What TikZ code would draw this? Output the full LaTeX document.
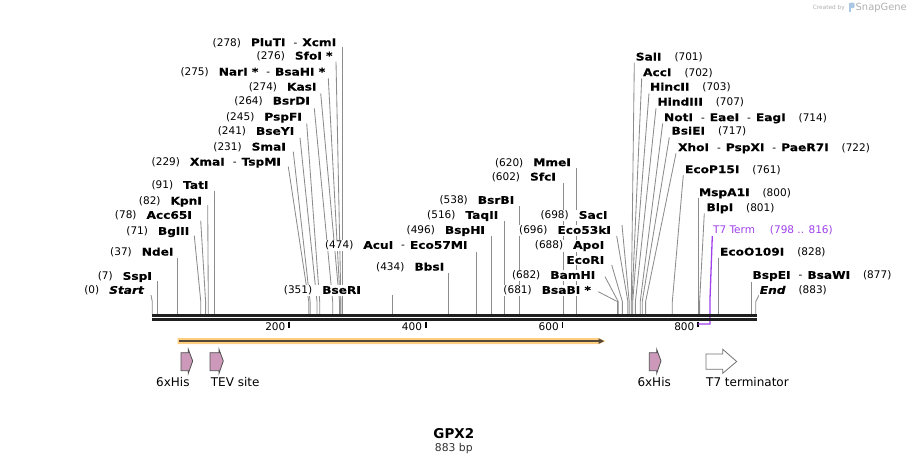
\documentclass[tikz,border=0pt]{standalone}
\usepackage{fontspec}
\setmainfont{DejaVu Sans}[BoldFeatures={FakeStretch=1.16,FakeBold=0.35},BoldItalicFeatures={FakeStretch=1.16,FakeBold=0.35}]
\newfontfamily\titlefont{DejaVu Sans Bold}
\definecolor{leadgray}{RGB}{140,140,140}
\definecolor{termpurple}{RGB}{160,64,235}
\definecolor{orfband}{RGB}{255,206,128}
\definecolor{orfline}{RGB}{85,72,55}
\definecolor{featpink}{RGB}{204,153,187}
\definecolor{featline}{RGB}{80,80,80}
\definecolor{wmgray}{RGB}{175,175,175}
\definecolor{wmblue}{RGB}{170,200,228}
\newcommand\lgapx{\hspace{10pt}}
\newcommand\rgapx{\hspace{13pt}}
\newcommand\dsep{\hspace{8pt}-\hspace{5pt}}
\begin{document}
\begin{tikzpicture}[x=1pt,y=-1pt,
  font=\fontsize{10.5}{12}\selectfont,
  lead/.style={draw=leadgray, line width=0.85},
  lbl/.style={fill=white, inner sep=0.6pt, text=black},
  lbll/.style={lbl, anchor=base east},
  lblr/.style={lbl, anchor=base west},
  bbone/.style={line width=2.5, draw=black!88},
  tk/.style={line width=1.8, draw=black},
  tklbl/.style={anchor=base east, inner sep=0pt},
  feat/.style={draw=featline, line width=0.8, fill=featpink, line join=miter},
  featlbl/.style={anchor=base west, inner sep=0pt, font=\fontsize{12}{14}\selectfont},
]
\useasboundingbox (0,0) rectangle (910,464);

% ---------- leader lines ----------
\draw[lead] (342.3,47) -- (342.3,314);
\draw[lead] (336,61.7) -- (340.9,301.7) -- (340.9,314);
\draw[lead] (328.3,78.3) -- (340.2,301.7) -- (340.2,314);
\draw[lead] (320.7,93.3) -- (339.5,301.7) -- (339.5,314);
\draw[lead] (314.3,108.3) -- (332.7,301.7) -- (332.7,314);
\draw[lead] (306.7,123.3) -- (319.7,301.7) -- (319.7,314);
\draw[lead] (300,137.7) -- (317.0,301.7) -- (317.0,314);
\draw[lead] (293.3,151.7) -- (310.1,301.7) -- (310.1,314);
\draw[lead] (288.3,166.7) -- (308.8,301.7) -- (308.8,314);
\draw[lead] (214.5,190.7) -- (214.5,314);
\draw[lead] (207.7,205) -- (208.3,301.7) -- (208.3,314);
\draw[lead] (200.7,220.7) -- (205.6,301.7) -- (205.6,314);
\draw[lead] (194.3,235.7) -- (200.8,301.7) -- (200.8,314);
\draw[lead] (177.6,258.3) -- (177.6,314);
\draw[lead] (157.1,281) -- (157.1,314);
\draw[lead] (151,295) -- (152.3,301.7) -- (152.3,314);
\draw[lead] (392.2,295) -- (392.2,314);
\draw[lead] (448.9,273.3) -- (448.9,314);
\draw[lead] (476.2,251.7) -- (476.2,314);
\draw[lead] (491.2,236) -- (491.2,314);
\draw[lead] (504.9,221) -- (504.9,314);
\draw[lead] (519.9,206) -- (519.9,314);
\draw[lead] (563.6,183.3) -- (563.6,314);
\draw[lead] (576.0,168.3) -- (576.0,314);
\draw[lead] (622,225) -- (629.2,301.7) -- (629.2,314);
\draw[lead] (616.7,236) -- (627.9,301.7) -- (627.9,314);
\draw[lead] (611.7,265) -- (622.4,301.7) -- (622.4,314);
\draw[lead] (605,276.7) -- (618.3,301.7) -- (618.3,314);
\draw[lead] (598.3,291.7) -- (617.6,301.7) -- (617.6,314);
\draw[lead] (634.3,62.7) -- (631.3,301.7) -- (631.3,314);
\draw[lead] (641.7,78.3) -- (632.0,301.7) -- (632.0,314);
\draw[lead] (649,93.3) -- (632.7,301.7) -- (632.7,314);
\draw[lead] (656,108.3) -- (635.4,301.7) -- (635.4,314);
\draw[lead] (662.7,123.3) -- (640.2,301.7) -- (640.2,314);
\draw[lead] (669.3,137.3) -- (642.2,301.7) -- (642.2,314);
\draw[lead] (676,153.3) -- (645.6,301.7) -- (645.6,314);
\draw[lead] (683.3,175) -- (672.3,301.7) -- (672.3,314);
\draw[lead] (698.9,198.3) -- (698.9,314);
\draw[lead] (704.3,213.3) -- (699.6,301.7) -- (699.6,314);
\draw[lead] (718.1,258.3) -- (718.1,314);
\draw[lead] (751.5,281.7) -- (751.5,314);
\draw[lead] (759,295) -- (755.7,301.7) -- (755.7,314);

% ---------- T7 term span (purple) ----------
\draw[tk] (698.3,321.8) -- (698.3,327.2);
\draw[draw=termpurple, line width=1.3] (712.3,236) -- (709.9,301.7) -- (709.9,324) -- (697.6,324);

% ---------- backbone ----------
\coordinate (bbL) at (152.3,0);
\coordinate (bbR) at (756.5,0);
\draw[bbone] (152.3,315.3) -- (756.5,315.3);
\draw[bbone, line width=2.3] (152.3,319.6) -- (756.5,319.6);

% ---------- ticks ----------
\draw[tk] (289,321.5) -- (289,327.8);
\draw[tk] (425.7,321.5) -- (425.7,327.8);
\draw[tk] (562.4,321.5) -- (562.4,327.8);
\node[tklbl] (t200) at (285.5,330.5) {200};
\node[tklbl] (t400) at (422.2,330.5) {400};
\node[tklbl] (t600) at (558.9,330.5) {600};
\node[tklbl] (t800) at (694.5,330.5) {800};

% ---------- left-side labels ----------
\node[lbll] (n278) at (337,46.1) {(278)\lgapx\textbf{PluTI}\dsep\textbf{XcmI}};
\node[lbll] (n276) at (333.3,59.5) {(276)\lgapx\textbf{SfoI *}};
\node[lbll] (n275) at (326,75.5) {(275)\lgapx\textbf{NarI *}\dsep\textbf{BsaHI *}};
\node[lbll] (n274) at (317.3,90.5) {(274)\lgapx\textbf{KasI}};
\node[lbll] (n264) at (310.7,104.5) {(264)\lgapx\textbf{BsrDI}};
\node[lbll] (n245) at (302.7,120.5) {(245)\lgapx\textbf{PspFI}};
\node[lbll] (n241) at (295,134.8) {(241)\lgapx\textbf{BseYI}};
\node[lbll] (n231) at (286.7,150.5) {(231)\lgapx\textbf{SmaI}};
\node[lbll] (n229) at (281.7,165.5) {(229)\lgapx\textbf{XmaI}\dsep\textbf{TspMI}};
\node[lbll] (n91) at (209.3,188.8) {(91)\lgapx\textbf{TatI}};
\node[lbll] (n82) at (202.7,204.5) {(82)\lgapx\textbf{KpnI}};
\node[lbll] (n78) at (192.7,218.8) {(78)\lgapx\textbf{Acc65I}};
\node[lbll] (n71) at (190,234.8) {(71)\lgapx\textbf{BglII}};
\node[lbll] (n37) at (174.3,255.5) {(37)\lgapx\textbf{NdeI}};
\node[lbll] (n7) at (152.7,279.8) {(7)\lgapx\textbf{SspI}};
\node[lbll] (n0) at (145,293.8) {(0)\lgapx\textbf{\textit{Start}}};
\node[lbll] (n351) at (361.7,293.8) {(351)\lgapx\textbf{BseRI}};
\node[lbll] (n434) at (445,270.5) {(434)\lgapx\textbf{BbsI}};
\node[lbll] (n474) at (468.3,248.8) {(474)\lgapx\textbf{AcuI}\dsep\textbf{Eco57MI}};
\node[lbll] (n496) at (485.7,233.8) {(496)\lgapx\textbf{BspHI}};
\node[lbll] (n516) at (499,218.8) {(516)\lgapx\textbf{TaqII}};
\node[lbll] (n538) at (515,203.8) {(538)\lgapx\textbf{BsrBI}};
\node[lbll] (n602) at (556.7,180.5) {(602)\lgapx\textbf{SfcI}};
\node[lbll] (n620) at (571.7,166.1) {(620)\lgapx\textbf{MmeI}};
\node[lbll] (n698) at (608.3,218.8) {(698)\lgapx\textbf{SacI}};
\node[lbll] (n696) at (611.7,233.8) {(696)\lgapx\textbf{Eco53kI}};
\node[lbll] (n688) at (605,248.8) {(688)\lgapx\textbf{ApoI}};
\node[lbll] (nEcoRI) at (605,263.8) {\textbf{EcoRI}};
\node[lbll] (n682) at (596,278.8) {(682)\lgapx\textbf{BamHI}};
\node[lbll] (n681) at (591.7,293.8) {(681)\lgapx\textbf{BsaBI *}};

% ---------- right-side labels ----------
\node[lblr] (n701) at (635,60.5) {\textbf{SalI}\rgapx(701)};
\node[lblr] (n702) at (642.3,76.1) {\textbf{AccI}\rgapx(702)};
\node[lblr] (n703) at (649.3,90.5) {\textbf{HincII}\rgapx(703)};
\node[lblr] (n707) at (656.7,105.5) {\textbf{HindIII}\rgapx(707)};
\node[lblr] (n714) at (663.3,121.1) {\textbf{NotI}\dsep\textbf{EaeI}\dsep\textbf{EagI}\rgapx(714)};
\node[lblr] (n717) at (670.7,134.5) {\textbf{BsiEI}\rgapx(717)};
\node[lblr] (n722) at (677.3,151.1) {\textbf{XhoI}\dsep\textbf{PspXI}\dsep\textbf{PaeR7I}\rgapx(722)};
\node[lblr] (n761) at (684.3,173.1) {\textbf{EcoP15I}\rgapx(761)};
\node[lblr] (n800) at (698.3,196.1) {\textbf{MspA1I}\rgapx(800)};
\node[lblr] (n801) at (705.7,211.1) {\textbf{BlpI}\rgapx(801)};
\node[lblr, text=termpurple] (nT7) at (712.3,233.8) {T7 Term\hspace{15pt}(798 .. 816)};
\node[lblr] (n828) at (719.3,255.5) {\textbf{EcoO109I}\rgapx(828)};
\node[lblr] (n877) at (751.7,278.8) {\textbf{BspEI}\dsep\textbf{BsaWI}\rgapx(877)};
\node[lblr] (n883) at (759,293.8) {\textbf{\textit{End}}\rgapx(883)};

% ---------- ORF arrow ----------
\fill[orfband] (177.7,338.2) -- (599,338.2) -- (605.5,341.1) -- (599,344) -- (177.7,344) -- cycle;
\draw[orfline, line width=1.3] (179.3,341.1) -- (600,341.1);
\fill[orfline] (598.5,338.3) -- (604.2,341.1) -- (598.5,343.9) -- cycle;

% ---------- features ----------
\filldraw[feat] (181,352.7) -- (188.3,352.7) -- (188.3,349.3) -- (192.7,361) -- (188.3,373.3) -- (188.3,370.7) -- (181,370.7) -- cycle;
\filldraw[feat] (210,352.7) -- (219,352.7) -- (219,349.3) -- (223.3,361) -- (219,373.3) -- (219,370.7) -- (210,370.7) -- cycle;
\filldraw[feat] (649.3,352.7) -- (656.7,352.7) -- (656.7,349.3) -- (661,361) -- (656.7,373.3) -- (656.7,370.7) -- (649.3,370.7) -- cycle;
\filldraw[feat, fill=white, draw=featline!80] (706,354) -- (722.7,354) -- (722.7,349.3) -- (736.7,361.5) -- (722.7,373.3) -- (722.7,369.3) -- (706,369.3) -- cycle;
\node[featlbl] (f1) at (156,386.4) {6xHis};
\node[featlbl] (f2) at (210.7,386.4) {TEV site};
\node[featlbl] (f3) at (637.3,386.4) {6xHis};
\node[featlbl] (f4) at (706,386.4) {T7 terminator};

% ---------- title ----------
\node[inner sep=0pt, anchor=base, font=\titlefont\fontsize{13.5}{15}\selectfont] (title) at (453.8,438.2) {GPX2};
\node[inner sep=0pt, anchor=base, text=black!80, font=\fontsize{10.8}{12}\selectfont] (len) at (453.8,451.6) {883 bp};

% ---------- watermark ----------
\node[inner sep=0pt, anchor=base west, text=wmgray, font=\fontsize{5.8}{7}\selectfont] (wm1) at (812.7,9.2) {Created by};
\fill[wmblue] (848.5,2.5) rectangle (850.5,12) ;
\fill[wmblue] (850.5,2.5) -- (853.5,2.5) .. controls (855,2.5) and (855,8) .. (853.5,8) -- (850.5,8) -- cycle;
\node[inner sep=0pt, anchor=base west, text=wmgray, font=\fontsize{9.9}{11}\selectfont] (wm2) at (855.5,10.6) {SnapGene};
\end{tikzpicture}
\end{document}
